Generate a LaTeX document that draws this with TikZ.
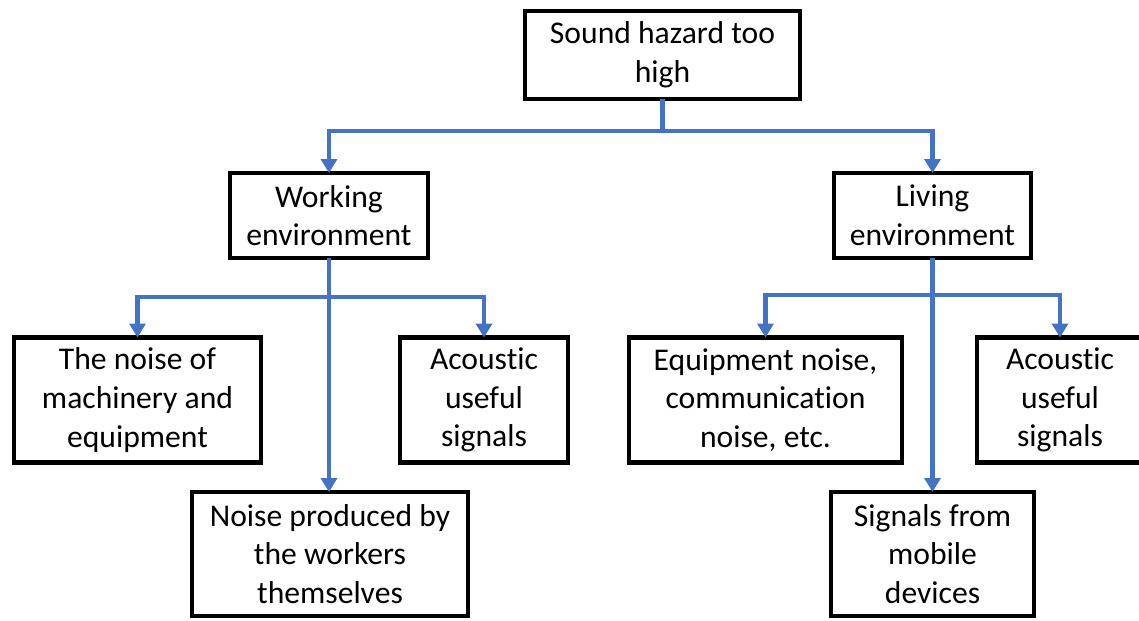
\documentclass[tikz,border=0pt]{standalone}
\usepackage{fontspec}
\setmainfont[Ligatures={NoCommon,NoRequired,NoContextual},Contextuals={NoAlternate},RawFeature={-liga,-clig,-dlig,-calt}]{Carlito}
\usetikzlibrary{arrows.meta}
\definecolor{linkblue}{HTML}{4472C4}
\begin{document}
\begin{tikzpicture}[x=0.02cm,y=-0.02cm,inner sep=2pt,outer sep=0pt,
hazblock/.style={draw,rectangle,line width=2.6pt,align=center,minimum height=2.5cm,font=\fontsize{18}{22}\selectfont},
link/.style={draw=linkblue,line width=2.4pt},
linkarrow/.style={link,-{Triangle[width=0.32cm,length=0.28cm]}}]
\useasboundingbox (0,0) rectangle (1139,621);

\draw (662.5,55) node[hazblock,minimum width=5.5cm,minimum height=1.76cm] (hazard) {Sound hazard too\\high};
\draw (329,215.5) node[hazblock,minimum width=3.96cm,minimum height=1.7cm] (work) {Working\\environment};
\draw (932.5,215.5) node[hazblock,minimum width=3.94cm,minimum height=1.7cm] (living) {Living\\environment};

\draw (137.5,400) node[hazblock,minimum width=4.94cm] (machine) {The noise of\\machinery and\\equipment};
\draw (484,400) node[hazblock,minimum width=3.36cm] (acoustL) {Acoustic\\useful\\signals};
\draw (330,554) node[hazblock,minimum width=5.52cm,minimum height=2.48cm] (workers) {Noise produced by\\the workers\\themselves};

\draw (765.5,400) node[hazblock,minimum width=5.46cm] (equip) {Equipment noise,\\communication\\noise, etc.};
\draw (1060,400) node[hazblock,minimum width=3.32cm] (acoustR) {Acoustic\\useful\\signals};
\draw (932.5,554) node[hazblock,minimum width=4.06cm,minimum height=2.48cm] (mobile) {Signals from\\mobile\\devices};

% top level
\draw[link] (hazard.south) -- ++(0,32) coordinate (bus1);
\draw[linkarrow] (bus1) -| (work);
\draw[linkarrow] (bus1) -| (living);

% working environment
\draw[link] (work.south) -- ++(0,39) coordinate (bus2);
\draw[linkarrow] (bus2) -| (machine);
\draw[linkarrow] (bus2) -| (acoustL);
\draw[linkarrow] (work.south) -- (work.south |- workers.north);

% living environment
\draw[link] (living.south) -- ++(0,37) coordinate (bus3);
\draw[linkarrow] (bus3) -| (equip);
\draw[linkarrow] (bus3) -| (acoustR);
\draw[linkarrow] (living.south) -- (living.south |- mobile.north);
\end{tikzpicture}
\end{document}
